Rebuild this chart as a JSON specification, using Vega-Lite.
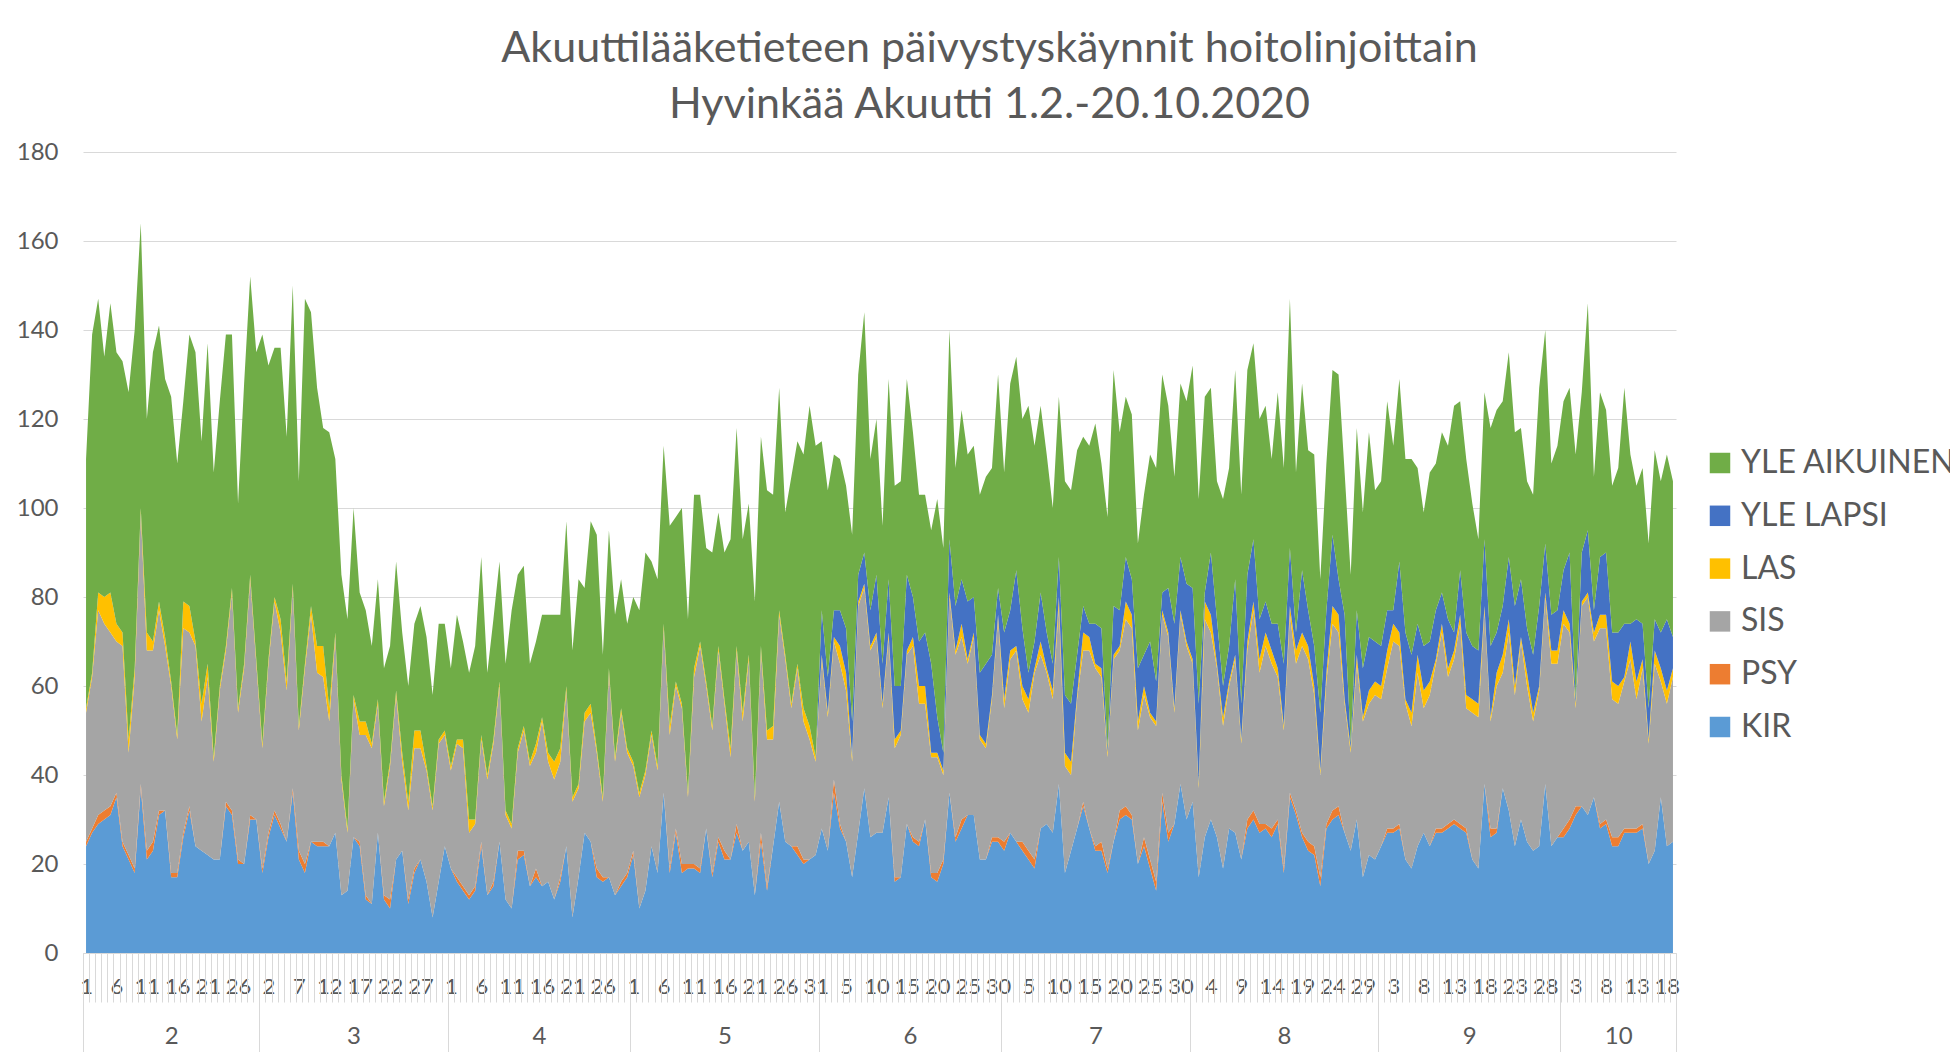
{
"$schema":"https://vega.github.io/schema/vega-lite/v6.json",
"width":1593,"height":801,
"autosize":{"type":"none"},
"padding":{"left":83,"top":152,"right":274,"bottom":99},
"background":"white",
"config":{"font":"Lato","view":{"stroke":null}},
"title":{"text":["Akuuttilääketieteen päivystyskäynnit hoitolinjoittain","Hyvinkää Akuutti 1.2.-20.10.2020"],"fontSize":43,"lineHeight":56,"fontWeight":"normal","color":"#595959","anchor":"middle","frame":"group","dx":110,"dy":56,"baseline":"alphabetic","offset":35},
"datasets":{
"series":[{"key":"KIR","rank":1},{"key":"PSY","rank":2},{"key":"SIS","rank":3},{"key":"LAS","rank":4},{"key":"YLE LAPSI","rank":5},{"key":"YLE AIKUINEN","rank":6}],
"days":[
{"date":"2020-02-01","KIR":24,"PSY":1,"SIS":29,"LAS":1,"YLE LAPSI":0,"YLE AIKUINEN":56},
{"date":"2020-02-02","KIR":27,"PSY":1,"SIS":34,"LAS":1,"YLE LAPSI":0,"YLE AIKUINEN":76},
{"date":"2020-02-03","KIR":29,"PSY":2,"SIS":46,"LAS":4,"YLE LAPSI":0,"YLE AIKUINEN":66},
{"date":"2020-02-04","KIR":30,"PSY":2,"SIS":42,"LAS":6,"YLE LAPSI":0,"YLE AIKUINEN":54},
{"date":"2020-02-05","KIR":31,"PSY":2,"SIS":39,"LAS":9,"YLE LAPSI":0,"YLE AIKUINEN":65},
{"date":"2020-02-06","KIR":35,"PSY":1,"SIS":34,"LAS":4,"YLE LAPSI":0,"YLE AIKUINEN":61},
{"date":"2020-02-07","KIR":24,"PSY":1,"SIS":44,"LAS":3,"YLE LAPSI":0,"YLE AIKUINEN":61},
{"date":"2020-02-08","KIR":21,"PSY":1,"SIS":23,"LAS":3,"YLE LAPSI":0,"YLE AIKUINEN":78},
{"date":"2020-02-09","KIR":18,"PSY":1,"SIS":43,"LAS":2,"YLE LAPSI":0,"YLE AIKUINEN":76},
{"date":"2020-02-10","KIR":37,"PSY":1,"SIS":61,"LAS":1,"YLE LAPSI":0,"YLE AIKUINEN":64},
{"date":"2020-02-11","KIR":21,"PSY":2,"SIS":45,"LAS":4,"YLE LAPSI":0,"YLE AIKUINEN":48},
{"date":"2020-02-12","KIR":23,"PSY":2,"SIS":43,"LAS":2,"YLE LAPSI":0,"YLE AIKUINEN":65},
{"date":"2020-02-13","KIR":31,"PSY":1,"SIS":45,"LAS":2,"YLE LAPSI":0,"YLE AIKUINEN":62},
{"date":"2020-02-14","KIR":32,"PSY":0,"SIS":37,"LAS":2,"YLE LAPSI":0,"YLE AIKUINEN":58},
{"date":"2020-02-15","KIR":17,"PSY":1,"SIS":42,"LAS":1,"YLE LAPSI":0,"YLE AIKUINEN":64},
{"date":"2020-02-16","KIR":17,"PSY":1,"SIS":30,"LAS":1,"YLE LAPSI":0,"YLE AIKUINEN":61},
{"date":"2020-02-17","KIR":26,"PSY":1,"SIS":46,"LAS":6,"YLE LAPSI":0,"YLE AIKUINEN":45},
{"date":"2020-02-18","KIR":32,"PSY":1,"SIS":39,"LAS":6,"YLE LAPSI":0,"YLE AIKUINEN":61},
{"date":"2020-02-19","KIR":24,"PSY":0,"SIS":45,"LAS":1,"YLE LAPSI":0,"YLE AIKUINEN":65},
{"date":"2020-02-20","KIR":23,"PSY":0,"SIS":29,"LAS":4,"YLE LAPSI":0,"YLE AIKUINEN":59},
{"date":"2020-02-21","KIR":22,"PSY":0,"SIS":40,"LAS":3,"YLE LAPSI":0,"YLE AIKUINEN":72},
{"date":"2020-02-22","KIR":21,"PSY":0,"SIS":22,"LAS":1,"YLE LAPSI":0,"YLE AIKUINEN":64},
{"date":"2020-02-23","KIR":21,"PSY":0,"SIS":38,"LAS":1,"YLE LAPSI":0,"YLE AIKUINEN":64},
{"date":"2020-02-24","KIR":33,"PSY":1,"SIS":34,"LAS":1,"YLE LAPSI":0,"YLE AIKUINEN":70},
{"date":"2020-02-25","KIR":31,"PSY":1,"SIS":49,"LAS":1,"YLE LAPSI":0,"YLE AIKUINEN":57},
{"date":"2020-02-26","KIR":20,"PSY":1,"SIS":33,"LAS":1,"YLE LAPSI":0,"YLE AIKUINEN":46},
{"date":"2020-02-27","KIR":20,"PSY":0,"SIS":44,"LAS":1,"YLE LAPSI":0,"YLE AIKUINEN":63},
{"date":"2020-02-28","KIR":30,"PSY":1,"SIS":53,"LAS":1,"YLE LAPSI":0,"YLE AIKUINEN":67},
{"date":"2020-02-29","KIR":30,"PSY":0,"SIS":35,"LAS":1,"YLE LAPSI":0,"YLE AIKUINEN":69},
{"date":"2020-03-01","KIR":18,"PSY":1,"SIS":27,"LAS":1,"YLE LAPSI":0,"YLE AIKUINEN":92},
{"date":"2020-03-02","KIR":26,"PSY":1,"SIS":38,"LAS":1,"YLE LAPSI":0,"YLE AIKUINEN":66},
{"date":"2020-03-03","KIR":31,"PSY":1,"SIS":47,"LAS":1,"YLE LAPSI":0,"YLE AIKUINEN":56},
{"date":"2020-03-04","KIR":28,"PSY":1,"SIS":43,"LAS":3,"YLE LAPSI":0,"YLE AIKUINEN":61},
{"date":"2020-03-05","KIR":25,"PSY":0,"SIS":34,"LAS":2,"YLE LAPSI":0,"YLE AIKUINEN":55},
{"date":"2020-03-06","KIR":36,"PSY":1,"SIS":45,"LAS":1,"YLE LAPSI":0,"YLE AIKUINEN":67},
{"date":"2020-03-07","KIR":21,"PSY":2,"SIS":27,"LAS":1,"YLE LAPSI":0,"YLE AIKUINEN":55},
{"date":"2020-03-08","KIR":18,"PSY":2,"SIS":44,"LAS":1,"YLE LAPSI":0,"YLE AIKUINEN":82},
{"date":"2020-03-09","KIR":25,"PSY":0,"SIS":51,"LAS":2,"YLE LAPSI":0,"YLE AIKUINEN":66},
{"date":"2020-03-10","KIR":24,"PSY":1,"SIS":38,"LAS":6,"YLE LAPSI":0,"YLE AIKUINEN":58},
{"date":"2020-03-11","KIR":24,"PSY":1,"SIS":37,"LAS":7,"YLE LAPSI":0,"YLE AIKUINEN":49},
{"date":"2020-03-12","KIR":24,"PSY":0,"SIS":28,"LAS":3,"YLE LAPSI":0,"YLE AIKUINEN":62},
{"date":"2020-03-13","KIR":27,"PSY":0,"SIS":44,"LAS":1,"YLE LAPSI":0,"YLE AIKUINEN":39},
{"date":"2020-03-14","KIR":13,"PSY":0,"SIS":26,"LAS":1,"YLE LAPSI":0,"YLE AIKUINEN":45},
{"date":"2020-03-15","KIR":14,"PSY":0,"SIS":13,"LAS":1,"YLE LAPSI":0,"YLE AIKUINEN":47},
{"date":"2020-03-16","KIR":26,"PSY":0,"SIS":31,"LAS":1,"YLE LAPSI":0,"YLE AIKUINEN":42},
{"date":"2020-03-17","KIR":24,"PSY":1,"SIS":24,"LAS":3,"YLE LAPSI":0,"YLE AIKUINEN":29},
{"date":"2020-03-18","KIR":12,"PSY":1,"SIS":36,"LAS":3,"YLE LAPSI":0,"YLE AIKUINEN":25},
{"date":"2020-03-19","KIR":11,"PSY":0,"SIS":35,"LAS":1,"YLE LAPSI":0,"YLE AIKUINEN":22},
{"date":"2020-03-20","KIR":27,"PSY":0,"SIS":29,"LAS":1,"YLE LAPSI":0,"YLE AIKUINEN":27},
{"date":"2020-03-21","KIR":12,"PSY":1,"SIS":20,"LAS":1,"YLE LAPSI":0,"YLE AIKUINEN":30},
{"date":"2020-03-22","KIR":10,"PSY":2,"SIS":30,"LAS":1,"YLE LAPSI":0,"YLE AIKUINEN":26},
{"date":"2020-03-23","KIR":21,"PSY":0,"SIS":37,"LAS":1,"YLE LAPSI":0,"YLE AIKUINEN":29},
{"date":"2020-03-24","KIR":23,"PSY":0,"SIS":20,"LAS":2,"YLE LAPSI":0,"YLE AIKUINEN":27},
{"date":"2020-03-25","KIR":11,"PSY":1,"SIS":20,"LAS":2,"YLE LAPSI":0,"YLE AIKUINEN":26},
{"date":"2020-03-26","KIR":18,"PSY":1,"SIS":27,"LAS":4,"YLE LAPSI":0,"YLE AIKUINEN":24},
{"date":"2020-03-27","KIR":21,"PSY":0,"SIS":25,"LAS":4,"YLE LAPSI":0,"YLE AIKUINEN":28},
{"date":"2020-03-28","KIR":16,"PSY":0,"SIS":25,"LAS":1,"YLE LAPSI":0,"YLE AIKUINEN":29},
{"date":"2020-03-29","KIR":8,"PSY":0,"SIS":24,"LAS":1,"YLE LAPSI":0,"YLE AIKUINEN":25},
{"date":"2020-03-30","KIR":16,"PSY":0,"SIS":31,"LAS":1,"YLE LAPSI":0,"YLE AIKUINEN":26},
{"date":"2020-03-31","KIR":24,"PSY":0,"SIS":25,"LAS":1,"YLE LAPSI":0,"YLE AIKUINEN":24},
{"date":"2020-04-01","KIR":19,"PSY":0,"SIS":22,"LAS":1,"YLE LAPSI":0,"YLE AIKUINEN":22},
{"date":"2020-04-02","KIR":16,"PSY":1,"SIS":30,"LAS":1,"YLE LAPSI":0,"YLE AIKUINEN":28},
{"date":"2020-04-03","KIR":14,"PSY":1,"SIS":31,"LAS":2,"YLE LAPSI":0,"YLE AIKUINEN":22},
{"date":"2020-04-04","KIR":12,"PSY":1,"SIS":14,"LAS":3,"YLE LAPSI":0,"YLE AIKUINEN":33},
{"date":"2020-04-05","KIR":14,"PSY":1,"SIS":14,"LAS":1,"YLE LAPSI":0,"YLE AIKUINEN":39},
{"date":"2020-04-06","KIR":24,"PSY":1,"SIS":23,"LAS":1,"YLE LAPSI":0,"YLE AIKUINEN":40},
{"date":"2020-04-07","KIR":13,"PSY":0,"SIS":26,"LAS":1,"YLE LAPSI":0,"YLE AIKUINEN":23},
{"date":"2020-04-08","KIR":15,"PSY":1,"SIS":31,"LAS":1,"YLE LAPSI":0,"YLE AIKUINEN":27},
{"date":"2020-04-09","KIR":25,"PSY":0,"SIS":35,"LAS":1,"YLE LAPSI":0,"YLE AIKUINEN":27},
{"date":"2020-04-10","KIR":12,"PSY":0,"SIS":19,"LAS":1,"YLE LAPSI":0,"YLE AIKUINEN":33},
{"date":"2020-04-11","KIR":10,"PSY":0,"SIS":18,"LAS":1,"YLE LAPSI":0,"YLE AIKUINEN":48},
{"date":"2020-04-12","KIR":21,"PSY":2,"SIS":22,"LAS":1,"YLE LAPSI":0,"YLE AIKUINEN":39},
{"date":"2020-04-13","KIR":22,"PSY":1,"SIS":27,"LAS":1,"YLE LAPSI":0,"YLE AIKUINEN":36},
{"date":"2020-04-14","KIR":15,"PSY":0,"SIS":27,"LAS":1,"YLE LAPSI":0,"YLE AIKUINEN":22},
{"date":"2020-04-15","KIR":17,"PSY":2,"SIS":26,"LAS":2,"YLE LAPSI":0,"YLE AIKUINEN":23},
{"date":"2020-04-16","KIR":15,"PSY":0,"SIS":37,"LAS":1,"YLE LAPSI":0,"YLE AIKUINEN":23},
{"date":"2020-04-17","KIR":16,"PSY":0,"SIS":27,"LAS":2,"YLE LAPSI":0,"YLE AIKUINEN":31},
{"date":"2020-04-18","KIR":12,"PSY":0,"SIS":27,"LAS":4,"YLE LAPSI":0,"YLE AIKUINEN":33},
{"date":"2020-04-19","KIR":16,"PSY":1,"SIS":26,"LAS":3,"YLE LAPSI":0,"YLE AIKUINEN":30},
{"date":"2020-04-20","KIR":24,"PSY":0,"SIS":35,"LAS":1,"YLE LAPSI":0,"YLE AIKUINEN":37},
{"date":"2020-04-21","KIR":8,"PSY":0,"SIS":26,"LAS":1,"YLE LAPSI":0,"YLE AIKUINEN":33},
{"date":"2020-04-22","KIR":17,"PSY":0,"SIS":20,"LAS":1,"YLE LAPSI":0,"YLE AIKUINEN":46},
{"date":"2020-04-23","KIR":27,"PSY":0,"SIS":25,"LAS":2,"YLE LAPSI":0,"YLE AIKUINEN":28},
{"date":"2020-04-24","KIR":25,"PSY":0,"SIS":29,"LAS":2,"YLE LAPSI":0,"YLE AIKUINEN":41},
{"date":"2020-04-25","KIR":17,"PSY":2,"SIS":26,"LAS":1,"YLE LAPSI":0,"YLE AIKUINEN":48},
{"date":"2020-04-26","KIR":16,"PSY":1,"SIS":17,"LAS":1,"YLE LAPSI":0,"YLE AIKUINEN":32},
{"date":"2020-04-27","KIR":17,"PSY":0,"SIS":46,"LAS":1,"YLE LAPSI":0,"YLE AIKUINEN":31},
{"date":"2020-04-28","KIR":13,"PSY":0,"SIS":30,"LAS":1,"YLE LAPSI":0,"YLE AIKUINEN":32},
{"date":"2020-04-29","KIR":15,"PSY":1,"SIS":38,"LAS":1,"YLE LAPSI":0,"YLE AIKUINEN":29},
{"date":"2020-04-30","KIR":17,"PSY":1,"SIS":27,"LAS":1,"YLE LAPSI":0,"YLE AIKUINEN":28},
{"date":"2020-05-01","KIR":22,"PSY":1,"SIS":19,"LAS":1,"YLE LAPSI":0,"YLE AIKUINEN":37},
{"date":"2020-05-02","KIR":10,"PSY":0,"SIS":25,"LAS":1,"YLE LAPSI":0,"YLE AIKUINEN":41},
{"date":"2020-05-03","KIR":14,"PSY":0,"SIS":26,"LAS":1,"YLE LAPSI":0,"YLE AIKUINEN":49},
{"date":"2020-05-04","KIR":24,"PSY":0,"SIS":25,"LAS":1,"YLE LAPSI":0,"YLE AIKUINEN":38},
{"date":"2020-05-05","KIR":18,"PSY":0,"SIS":23,"LAS":1,"YLE LAPSI":0,"YLE AIKUINEN":42},
{"date":"2020-05-06","KIR":36,"PSY":0,"SIS":37,"LAS":1,"YLE LAPSI":0,"YLE AIKUINEN":40},
{"date":"2020-05-07","KIR":18,"PSY":1,"SIS":30,"LAS":2,"YLE LAPSI":0,"YLE AIKUINEN":45},
{"date":"2020-05-08","KIR":27,"PSY":1,"SIS":32,"LAS":1,"YLE LAPSI":0,"YLE AIKUINEN":37},
{"date":"2020-05-09","KIR":18,"PSY":2,"SIS":35,"LAS":1,"YLE LAPSI":0,"YLE AIKUINEN":44},
{"date":"2020-05-10","KIR":19,"PSY":1,"SIS":15,"LAS":1,"YLE LAPSI":0,"YLE AIKUINEN":39},
{"date":"2020-05-11","KIR":19,"PSY":1,"SIS":42,"LAS":2,"YLE LAPSI":0,"YLE AIKUINEN":39},
{"date":"2020-05-12","KIR":18,"PSY":1,"SIS":50,"LAS":1,"YLE LAPSI":0,"YLE AIKUINEN":33},
{"date":"2020-05-13","KIR":28,"PSY":0,"SIS":32,"LAS":1,"YLE LAPSI":0,"YLE AIKUINEN":30},
{"date":"2020-05-14","KIR":17,"PSY":1,"SIS":32,"LAS":1,"YLE LAPSI":0,"YLE AIKUINEN":39},
{"date":"2020-05-15","KIR":25,"PSY":1,"SIS":42,"LAS":1,"YLE LAPSI":0,"YLE AIKUINEN":30},
{"date":"2020-05-16","KIR":21,"PSY":2,"SIS":33,"LAS":1,"YLE LAPSI":0,"YLE AIKUINEN":33},
{"date":"2020-05-17","KIR":21,"PSY":0,"SIS":23,"LAS":2,"YLE LAPSI":0,"YLE AIKUINEN":47},
{"date":"2020-05-18","KIR":27,"PSY":2,"SIS":39,"LAS":1,"YLE LAPSI":0,"YLE AIKUINEN":49},
{"date":"2020-05-19","KIR":23,"PSY":0,"SIS":29,"LAS":2,"YLE LAPSI":0,"YLE AIKUINEN":39},
{"date":"2020-05-20","KIR":25,"PSY":0,"SIS":41,"LAS":1,"YLE LAPSI":0,"YLE AIKUINEN":34},
{"date":"2020-05-21","KIR":13,"PSY":0,"SIS":21,"LAS":1,"YLE LAPSI":0,"YLE AIKUINEN":44},
{"date":"2020-05-22","KIR":25,"PSY":2,"SIS":41,"LAS":1,"YLE LAPSI":0,"YLE AIKUINEN":47},
{"date":"2020-05-23","KIR":14,"PSY":1,"SIS":33,"LAS":2,"YLE LAPSI":0,"YLE AIKUINEN":54},
{"date":"2020-05-24","KIR":24,"PSY":0,"SIS":24,"LAS":3,"YLE LAPSI":0,"YLE AIKUINEN":52},
{"date":"2020-05-25","KIR":34,"PSY":0,"SIS":42,"LAS":1,"YLE LAPSI":0,"YLE AIKUINEN":50},
{"date":"2020-05-26","KIR":25,"PSY":0,"SIS":41,"LAS":1,"YLE LAPSI":0,"YLE AIKUINEN":32},
{"date":"2020-05-27","KIR":24,"PSY":0,"SIS":31,"LAS":1,"YLE LAPSI":0,"YLE AIKUINEN":51},
{"date":"2020-05-28","KIR":22,"PSY":2,"SIS":40,"LAS":1,"YLE LAPSI":0,"YLE AIKUINEN":50},
{"date":"2020-05-29","KIR":20,"PSY":1,"SIS":31,"LAS":3,"YLE LAPSI":0,"YLE AIKUINEN":57},
{"date":"2020-05-30","KIR":21,"PSY":0,"SIS":27,"LAS":3,"YLE LAPSI":0,"YLE AIKUINEN":72},
{"date":"2020-05-31","KIR":22,"PSY":0,"SIS":21,"LAS":1,"YLE LAPSI":0,"YLE AIKUINEN":70},
{"date":"2020-06-01","KIR":28,"PSY":0,"SIS":38,"LAS":1,"YLE LAPSI":10,"YLE AIKUINEN":38},
{"date":"2020-06-02","KIR":23,"PSY":0,"SIS":30,"LAS":1,"YLE LAPSI":8,"YLE AIKUINEN":42},
{"date":"2020-06-03","KIR":36,"PSY":3,"SIS":31,"LAS":1,"YLE LAPSI":6,"YLE AIKUINEN":35},
{"date":"2020-06-04","KIR":28,"PSY":1,"SIS":36,"LAS":4,"YLE LAPSI":8,"YLE AIKUINEN":34},
{"date":"2020-06-05","KIR":25,"PSY":0,"SIS":34,"LAS":4,"YLE LAPSI":10,"YLE AIKUINEN":32},
{"date":"2020-06-06","KIR":17,"PSY":0,"SIS":26,"LAS":1,"YLE LAPSI":8,"YLE AIKUINEN":42},
{"date":"2020-06-07","KIR":27,"PSY":0,"SIS":51,"LAS":1,"YLE LAPSI":6,"YLE AIKUINEN":45},
{"date":"2020-06-08","KIR":37,"PSY":0,"SIS":45,"LAS":1,"YLE LAPSI":7,"YLE AIKUINEN":54},
{"date":"2020-06-09","KIR":26,"PSY":0,"SIS":42,"LAS":1,"YLE LAPSI":8,"YLE AIKUINEN":34},
{"date":"2020-06-10","KIR":27,"PSY":0,"SIS":44,"LAS":1,"YLE LAPSI":13,"YLE AIKUINEN":35},
{"date":"2020-06-11","KIR":27,"PSY":0,"SIS":28,"LAS":1,"YLE LAPSI":9,"YLE AIKUINEN":31},
{"date":"2020-06-12","KIR":35,"PSY":0,"SIS":36,"LAS":1,"YLE LAPSI":12,"YLE AIKUINEN":45},
{"date":"2020-06-13","KIR":16,"PSY":1,"SIS":29,"LAS":2,"YLE LAPSI":12,"YLE AIKUINEN":45},
{"date":"2020-06-14","KIR":17,"PSY":0,"SIS":32,"LAS":1,"YLE LAPSI":10,"YLE AIKUINEN":46},
{"date":"2020-06-15","KIR":29,"PSY":0,"SIS":38,"LAS":1,"YLE LAPSI":17,"YLE AIKUINEN":44},
{"date":"2020-06-16","KIR":25,"PSY":1,"SIS":43,"LAS":2,"YLE LAPSI":9,"YLE AIKUINEN":37},
{"date":"2020-06-17","KIR":24,"PSY":1,"SIS":31,"LAS":4,"YLE LAPSI":10,"YLE AIKUINEN":33},
{"date":"2020-06-18","KIR":30,"PSY":0,"SIS":26,"LAS":4,"YLE LAPSI":12,"YLE AIKUINEN":31},
{"date":"2020-06-19","KIR":17,"PSY":1,"SIS":26,"LAS":1,"YLE LAPSI":20,"YLE AIKUINEN":30},
{"date":"2020-06-20","KIR":16,"PSY":2,"SIS":26,"LAS":1,"YLE LAPSI":8,"YLE AIKUINEN":49},
{"date":"2020-06-21","KIR":20,"PSY":1,"SIS":19,"LAS":1,"YLE LAPSI":4,"YLE AIKUINEN":46},
{"date":"2020-06-22","KIR":36,"PSY":0,"SIS":44,"LAS":1,"YLE LAPSI":12,"YLE AIKUINEN":47},
{"date":"2020-06-23","KIR":25,"PSY":1,"SIS":41,"LAS":1,"YLE LAPSI":10,"YLE AIKUINEN":31},
{"date":"2020-06-24","KIR":28,"PSY":2,"SIS":41,"LAS":3,"YLE LAPSI":10,"YLE AIKUINEN":38},
{"date":"2020-06-25","KIR":31,"PSY":0,"SIS":34,"LAS":1,"YLE LAPSI":13,"YLE AIKUINEN":33},
{"date":"2020-06-26","KIR":31,"PSY":0,"SIS":40,"LAS":1,"YLE LAPSI":8,"YLE AIKUINEN":34},
{"date":"2020-06-27","KIR":21,"PSY":0,"SIS":27,"LAS":1,"YLE LAPSI":14,"YLE AIKUINEN":40},
{"date":"2020-06-28","KIR":21,"PSY":0,"SIS":25,"LAS":1,"YLE LAPSI":18,"YLE AIKUINEN":42},
{"date":"2020-06-29","KIR":25,"PSY":1,"SIS":31,"LAS":1,"YLE LAPSI":9,"YLE AIKUINEN":42},
{"date":"2020-06-30","KIR":25,"PSY":1,"SIS":49,"LAS":1,"YLE LAPSI":6,"YLE AIKUINEN":48},
{"date":"2020-07-01","KIR":23,"PSY":2,"SIS":30,"LAS":2,"YLE LAPSI":15,"YLE AIKUINEN":36},
{"date":"2020-07-02","KIR":27,"PSY":0,"SIS":39,"LAS":2,"YLE LAPSI":9,"YLE AIKUINEN":51},
{"date":"2020-07-03","KIR":25,"PSY":0,"SIS":43,"LAS":1,"YLE LAPSI":17,"YLE AIKUINEN":48},
{"date":"2020-07-04","KIR":23,"PSY":2,"SIS":32,"LAS":3,"YLE LAPSI":13,"YLE AIKUINEN":47},
{"date":"2020-07-05","KIR":21,"PSY":2,"SIS":31,"LAS":3,"YLE LAPSI":6,"YLE AIKUINEN":60},
{"date":"2020-07-06","KIR":19,"PSY":2,"SIS":42,"LAS":1,"YLE LAPSI":6,"YLE AIKUINEN":44},
{"date":"2020-07-07","KIR":28,"PSY":0,"SIS":39,"LAS":3,"YLE LAPSI":11,"YLE AIKUINEN":42},
{"date":"2020-07-08","KIR":29,"PSY":0,"SIS":34,"LAS":1,"YLE LAPSI":8,"YLE AIKUINEN":40},
{"date":"2020-07-09","KIR":27,"PSY":0,"SIS":30,"LAS":2,"YLE LAPSI":6,"YLE AIKUINEN":35},
{"date":"2020-07-10","KIR":38,"PSY":0,"SIS":40,"LAS":2,"YLE LAPSI":9,"YLE AIKUINEN":36},
{"date":"2020-07-11","KIR":18,"PSY":0,"SIS":24,"LAS":3,"YLE LAPSI":13,"YLE AIKUINEN":48},
{"date":"2020-07-12","KIR":23,"PSY":0,"SIS":17,"LAS":3,"YLE LAPSI":13,"YLE AIKUINEN":48},
{"date":"2020-07-13","KIR":28,"PSY":0,"SIS":29,"LAS":1,"YLE LAPSI":9,"YLE AIKUINEN":46},
{"date":"2020-07-14","KIR":33,"PSY":1,"SIS":34,"LAS":4,"YLE LAPSI":6,"YLE AIKUINEN":38},
{"date":"2020-07-15","KIR":28,"PSY":0,"SIS":40,"LAS":3,"YLE LAPSI":3,"YLE AIKUINEN":40},
{"date":"2020-07-16","KIR":23,"PSY":1,"SIS":40,"LAS":1,"YLE LAPSI":9,"YLE AIKUINEN":45},
{"date":"2020-07-17","KIR":23,"PSY":2,"SIS":37,"LAS":2,"YLE LAPSI":9,"YLE AIKUINEN":37},
{"date":"2020-07-18","KIR":18,"PSY":1,"SIS":25,"LAS":1,"YLE LAPSI":1,"YLE AIKUINEN":52},
{"date":"2020-07-19","KIR":25,"PSY":0,"SIS":41,"LAS":1,"YLE LAPSI":11,"YLE AIKUINEN":53},
{"date":"2020-07-20","KIR":30,"PSY":2,"SIS":36,"LAS":1,"YLE LAPSI":8,"YLE AIKUINEN":40},
{"date":"2020-07-21","KIR":31,"PSY":2,"SIS":42,"LAS":4,"YLE LAPSI":10,"YLE AIKUINEN":36},
{"date":"2020-07-22","KIR":30,"PSY":1,"SIS":42,"LAS":3,"YLE LAPSI":8,"YLE AIKUINEN":37},
{"date":"2020-07-23","KIR":20,"PSY":0,"SIS":30,"LAS":2,"YLE LAPSI":12,"YLE AIKUINEN":28},
{"date":"2020-07-24","KIR":24,"PSY":2,"SIS":32,"LAS":2,"YLE LAPSI":7,"YLE AIKUINEN":36},
{"date":"2020-07-25","KIR":19,"PSY":2,"SIS":32,"LAS":1,"YLE LAPSI":16,"YLE AIKUINEN":42},
{"date":"2020-07-26","KIR":14,"PSY":2,"SIS":35,"LAS":1,"YLE LAPSI":9,"YLE AIKUINEN":48},
{"date":"2020-07-27","KIR":34,"PSY":2,"SIS":40,"LAS":1,"YLE LAPSI":4,"YLE AIKUINEN":49},
{"date":"2020-07-28","KIR":25,"PSY":2,"SIS":44,"LAS":1,"YLE LAPSI":10,"YLE AIKUINEN":41},
{"date":"2020-07-29","KIR":29,"PSY":0,"SIS":25,"LAS":1,"YLE LAPSI":19,"YLE AIKUINEN":33},
{"date":"2020-07-30","KIR":38,"PSY":0,"SIS":38,"LAS":1,"YLE LAPSI":12,"YLE AIKUINEN":39},
{"date":"2020-07-31","KIR":30,"PSY":0,"SIS":39,"LAS":1,"YLE LAPSI":13,"YLE AIKUINEN":41},
{"date":"2020-08-01","KIR":34,"PSY":0,"SIS":31,"LAS":1,"YLE LAPSI":16,"YLE AIKUINEN":50},
{"date":"2020-08-02","KIR":17,"PSY":0,"SIS":20,"LAS":1,"YLE LAPSI":18,"YLE AIKUINEN":46},
{"date":"2020-08-03","KIR":26,"PSY":0,"SIS":49,"LAS":4,"YLE LAPSI":2,"YLE AIKUINEN":44},
{"date":"2020-08-04","KIR":30,"PSY":0,"SIS":42,"LAS":4,"YLE LAPSI":14,"YLE AIKUINEN":37},
{"date":"2020-08-05","KIR":26,"PSY":0,"SIS":38,"LAS":1,"YLE LAPSI":10,"YLE AIKUINEN":31},
{"date":"2020-08-06","KIR":19,"PSY":0,"SIS":32,"LAS":2,"YLE LAPSI":7,"YLE AIKUINEN":42},
{"date":"2020-08-07","KIR":28,"PSY":0,"SIS":32,"LAS":1,"YLE LAPSI":8,"YLE AIKUINEN":40},
{"date":"2020-08-08","KIR":27,"PSY":0,"SIS":39,"LAS":1,"YLE LAPSI":17,"YLE AIKUINEN":47},
{"date":"2020-08-09","KIR":21,"PSY":0,"SIS":26,"LAS":1,"YLE LAPSI":8,"YLE AIKUINEN":47},
{"date":"2020-08-10","KIR":28,"PSY":2,"SIS":38,"LAS":2,"YLE LAPSI":15,"YLE AIKUINEN":46},
{"date":"2020-08-11","KIR":30,"PSY":2,"SIS":45,"LAS":2,"YLE LAPSI":14,"YLE AIKUINEN":44},
{"date":"2020-08-12","KIR":27,"PSY":2,"SIS":34,"LAS":3,"YLE LAPSI":9,"YLE AIKUINEN":45},
{"date":"2020-08-13","KIR":28,"PSY":1,"SIS":40,"LAS":3,"YLE LAPSI":7,"YLE AIKUINEN":44},
{"date":"2020-08-14","KIR":26,"PSY":2,"SIS":37,"LAS":3,"YLE LAPSI":6,"YLE AIKUINEN":37},
{"date":"2020-08-15","KIR":29,"PSY":1,"SIS":32,"LAS":2,"YLE LAPSI":10,"YLE AIKUINEN":52},
{"date":"2020-08-16","KIR":18,"PSY":1,"SIS":31,"LAS":1,"YLE LAPSI":14,"YLE AIKUINEN":44},
{"date":"2020-08-17","KIR":35,"PSY":1,"SIS":40,"LAS":2,"YLE LAPSI":13,"YLE AIKUINEN":56},
{"date":"2020-08-18","KIR":31,"PSY":1,"SIS":33,"LAS":3,"YLE LAPSI":4,"YLE AIKUINEN":36},
{"date":"2020-08-19","KIR":26,"PSY":1,"SIS":42,"LAS":3,"YLE LAPSI":14,"YLE AIKUINEN":42},
{"date":"2020-08-20","KIR":23,"PSY":2,"SIS":41,"LAS":3,"YLE LAPSI":8,"YLE AIKUINEN":36},
{"date":"2020-08-21","KIR":22,"PSY":2,"SIS":34,"LAS":2,"YLE LAPSI":9,"YLE AIKUINEN":43},
{"date":"2020-08-22","KIR":15,"PSY":2,"SIS":23,"LAS":1,"YLE LAPSI":13,"YLE AIKUINEN":30},
{"date":"2020-08-23","KIR":28,"PSY":1,"SIS":32,"LAS":2,"YLE LAPSI":14,"YLE AIKUINEN":33},
{"date":"2020-08-24","KIR":30,"PSY":2,"SIS":42,"LAS":4,"YLE LAPSI":16,"YLE AIKUINEN":37},
{"date":"2020-08-25","KIR":31,"PSY":2,"SIS":39,"LAS":4,"YLE LAPSI":8,"YLE AIKUINEN":46},
{"date":"2020-08-26","KIR":27,"PSY":0,"SIS":29,"LAS":1,"YLE LAPSI":19,"YLE AIKUINEN":32},
{"date":"2020-08-27","KIR":23,"PSY":0,"SIS":22,"LAS":1,"YLE LAPSI":1,"YLE AIKUINEN":38},
{"date":"2020-08-28","KIR":30,"PSY":0,"SIS":35,"LAS":2,"YLE LAPSI":10,"YLE AIKUINEN":41},
{"date":"2020-08-29","KIR":17,"PSY":0,"SIS":35,"LAS":1,"YLE LAPSI":11,"YLE AIKUINEN":35},
{"date":"2020-08-30","KIR":22,"PSY":0,"SIS":34,"LAS":3,"YLE LAPSI":12,"YLE AIKUINEN":46},
{"date":"2020-08-31","KIR":21,"PSY":0,"SIS":37,"LAS":3,"YLE LAPSI":9,"YLE AIKUINEN":34},
{"date":"2020-09-01","KIR":24,"PSY":0,"SIS":33,"LAS":3,"YLE LAPSI":9,"YLE AIKUINEN":37},
{"date":"2020-09-02","KIR":27,"PSY":1,"SIS":36,"LAS":4,"YLE LAPSI":9,"YLE AIKUINEN":47},
{"date":"2020-09-03","KIR":27,"PSY":1,"SIS":42,"LAS":4,"YLE LAPSI":3,"YLE AIKUINEN":37},
{"date":"2020-09-04","KIR":28,"PSY":1,"SIS":40,"LAS":3,"YLE LAPSI":16,"YLE AIKUINEN":41},
{"date":"2020-09-05","KIR":21,"PSY":0,"SIS":35,"LAS":1,"YLE LAPSI":15,"YLE AIKUINEN":39},
{"date":"2020-09-06","KIR":19,"PSY":0,"SIS":32,"LAS":3,"YLE LAPSI":13,"YLE AIKUINEN":44},
{"date":"2020-09-07","KIR":24,"PSY":0,"SIS":39,"LAS":4,"YLE LAPSI":7,"YLE AIKUINEN":35},
{"date":"2020-09-08","KIR":27,"PSY":0,"SIS":28,"LAS":4,"YLE LAPSI":10,"YLE AIKUINEN":30},
{"date":"2020-09-09","KIR":24,"PSY":0,"SIS":34,"LAS":3,"YLE LAPSI":9,"YLE AIKUINEN":38},
{"date":"2020-09-10","KIR":27,"PSY":1,"SIS":37,"LAS":1,"YLE LAPSI":11,"YLE AIKUINEN":33},
{"date":"2020-09-11","KIR":27,"PSY":1,"SIS":44,"LAS":2,"YLE LAPSI":7,"YLE AIKUINEN":36},
{"date":"2020-09-12","KIR":28,"PSY":1,"SIS":33,"LAS":2,"YLE LAPSI":11,"YLE AIKUINEN":39},
{"date":"2020-09-13","KIR":29,"PSY":1,"SIS":36,"LAS":2,"YLE LAPSI":4,"YLE AIKUINEN":51},
{"date":"2020-09-14","KIR":28,"PSY":1,"SIS":45,"LAS":2,"YLE LAPSI":10,"YLE AIKUINEN":38},
{"date":"2020-09-15","KIR":27,"PSY":1,"SIS":27,"LAS":3,"YLE LAPSI":14,"YLE AIKUINEN":39},
{"date":"2020-09-16","KIR":21,"PSY":0,"SIS":33,"LAS":3,"YLE LAPSI":12,"YLE AIKUINEN":32},
{"date":"2020-09-17","KIR":19,"PSY":0,"SIS":34,"LAS":3,"YLE LAPSI":12,"YLE AIKUINEN":25},
{"date":"2020-09-18","KIR":38,"PSY":0,"SIS":39,"LAS":1,"YLE LAPSI":15,"YLE AIKUINEN":33},
{"date":"2020-09-19","KIR":26,"PSY":2,"SIS":24,"LAS":1,"YLE LAPSI":16,"YLE AIKUINEN":49},
{"date":"2020-09-20","KIR":27,"PSY":1,"SIS":32,"LAS":3,"YLE LAPSI":9,"YLE AIKUINEN":50},
{"date":"2020-09-21","KIR":37,"PSY":0,"SIS":26,"LAS":4,"YLE LAPSI":11,"YLE AIKUINEN":46},
{"date":"2020-09-22","KIR":32,"PSY":0,"SIS":40,"LAS":3,"YLE LAPSI":14,"YLE AIKUINEN":46},
{"date":"2020-09-23","KIR":24,"PSY":0,"SIS":34,"LAS":2,"YLE LAPSI":18,"YLE AIKUINEN":39},
{"date":"2020-09-24","KIR":30,"PSY":0,"SIS":40,"LAS":1,"YLE LAPSI":13,"YLE AIKUINEN":34},
{"date":"2020-09-25","KIR":25,"PSY":0,"SIS":35,"LAS":3,"YLE LAPSI":10,"YLE AIKUINEN":33},
{"date":"2020-09-26","KIR":23,"PSY":0,"SIS":29,"LAS":2,"YLE LAPSI":13,"YLE AIKUINEN":36},
{"date":"2020-09-27","KIR":24,"PSY":0,"SIS":35,"LAS":1,"YLE LAPSI":18,"YLE AIKUINEN":49},
{"date":"2020-09-28","KIR":38,"PSY":0,"SIS":42,"LAS":1,"YLE LAPSI":11,"YLE AIKUINEN":48},
{"date":"2020-09-29","KIR":24,"PSY":0,"SIS":41,"LAS":3,"YLE LAPSI":8,"YLE AIKUINEN":34},
{"date":"2020-09-30","KIR":26,"PSY":0,"SIS":39,"LAS":3,"YLE LAPSI":9,"YLE AIKUINEN":37},
{"date":"2020-10-01","KIR":26,"PSY":2,"SIS":46,"LAS":3,"YLE LAPSI":9,"YLE AIKUINEN":38},
{"date":"2020-10-02","KIR":28,"PSY":2,"SIS":42,"LAS":2,"YLE LAPSI":16,"YLE AIKUINEN":37},
{"date":"2020-10-03","KIR":31,"PSY":2,"SIS":22,"LAS":1,"YLE LAPSI":1,"YLE AIKUINEN":55},
{"date":"2020-10-04","KIR":33,"PSY":0,"SIS":45,"LAS":1,"YLE LAPSI":11,"YLE AIKUINEN":36},
{"date":"2020-10-05","KIR":31,"PSY":0,"SIS":49,"LAS":1,"YLE LAPSI":14,"YLE AIKUINEN":51},
{"date":"2020-10-06","KIR":35,"PSY":0,"SIS":35,"LAS":2,"YLE LAPSI":5,"YLE AIKUINEN":30},
{"date":"2020-10-07","KIR":28,"PSY":1,"SIS":44,"LAS":3,"YLE LAPSI":13,"YLE AIKUINEN":37},
{"date":"2020-10-08","KIR":29,"PSY":1,"SIS":43,"LAS":3,"YLE LAPSI":14,"YLE AIKUINEN":32},
{"date":"2020-10-09","KIR":24,"PSY":2,"SIS":31,"LAS":4,"YLE LAPSI":11,"YLE AIKUINEN":33},
{"date":"2020-10-10","KIR":24,"PSY":2,"SIS":30,"LAS":4,"YLE LAPSI":12,"YLE AIKUINEN":37},
{"date":"2020-10-11","KIR":27,"PSY":1,"SIS":33,"LAS":1,"YLE LAPSI":12,"YLE AIKUINEN":53},
{"date":"2020-10-12","KIR":27,"PSY":1,"SIS":38,"LAS":4,"YLE LAPSI":4,"YLE AIKUINEN":38},
{"date":"2020-10-13","KIR":27,"PSY":1,"SIS":29,"LAS":4,"YLE LAPSI":14,"YLE AIKUINEN":30},
{"date":"2020-10-14","KIR":28,"PSY":1,"SIS":35,"LAS":2,"YLE LAPSI":8,"YLE AIKUINEN":35},
{"date":"2020-10-15","KIR":20,"PSY":0,"SIS":27,"LAS":1,"YLE LAPSI":7,"YLE AIKUINEN":37},
{"date":"2020-10-16","KIR":23,"PSY":0,"SIS":42,"LAS":3,"YLE LAPSI":7,"YLE AIKUINEN":38},
{"date":"2020-10-17","KIR":35,"PSY":0,"SIS":26,"LAS":3,"YLE LAPSI":8,"YLE AIKUINEN":34},
{"date":"2020-10-18","KIR":24,"PSY":0,"SIS":32,"LAS":3,"YLE LAPSI":16,"YLE AIKUINEN":37},
{"date":"2020-10-19","KIR":25,"PSY":0,"SIS":37,"LAS":2,"YLE LAPSI":7,"YLE AIKUINEN":35}
]},
"data":{"name":"days"},
"resolve":{"axis":{"x":"independent"}},
"layer":[
{"transform":[{"fold":["KIR","PSY","SIS","LAS","YLE LAPSI","YLE AIKUINEN"],"as":["key","value"]},{"lookup":"key","from":{"data":{"name":"series"},"key":"key","fields":["rank"]}}],
"mark":{"type":"area","interpolate":"linear"},
"encoding":{
"x":{"field":"date","type":"temporal","scale":{"type":"utc","domain":[1580472000000,1603108800000],"nice":false},
"axis":{"orient":"bottom","title":null,"values":[1580515200000,1580947200000,1581379200000,1581811200000,1582243200000,1582675200000,1583107200000,1583539200000,1583971200000,1584403200000,1584835200000,1585267200000,1585699200000,1586131200000,1586563200000,1586995200000,1587427200000,1587859200000,1588291200000,1588723200000,1589155200000,1589587200000,1590019200000,1590451200000,1590883200000,1591315200000,1591747200000,1592179200000,1592611200000,1593043200000,1593475200000,1593907200000,1594339200000,1594771200000,1595203200000,1595635200000,1596067200000,1596499200000,1596931200000,1597363200000,1597795200000,1598227200000,1598659200000,1599091200000,1599523200000,1599955200000,1600387200000,1600819200000,1601251200000,1601683200000,1602115200000,1602547200000,1602979200000],
"labelExpr":"utcFormat(datum.value,'%-d')","ticks":false,"tickSize":0,"labelPadding":23,"labelFontSize":22,"labelColor":"#595959","labelOverlap":false,"labelBound":false,"labelFlush":false,"domain":true,"domainColor":"#d9d9d9","domainWidth":1,"grid":false}},
"y":{"field":"value","type":"quantitative","stack":"zero","scale":{"domain":[0,180],"nice":false},
"axis":{"title":null,"values":[0,20,40,60,80,100,120,140,160,180],"domain":false,"ticks":false,"tickSize":0,"labelPadding":25,"labelFontSize":24,"labelColor":"#595959","grid":true,"gridColor":"#d9d9d9","gridWidth":1.2}},
"color":{"field":"key","type":"nominal","scale":{"domain":["YLE AIKUINEN","YLE LAPSI","LAS","SIS","PSY","KIR"],"range":["#70AD47","#4472C4","#FFC000","#A5A5A5","#ED7D31","#5B9BD5"]},
"legend":{"orient":"none","legendX":1621,"legendY":295,"title":null,"symbolType":"square","symbolSize":420,"symbolStrokeWidth":0,"symbolOpacity":1,"labelFontSize":32,"labelLimit":600,"labelColor":"#595959","rowPadding":20.8,"labelOffset":5,"padding":0}},
"order":{"field":"rank","type":"quantitative","sort":"ascending"}
}},
{"mark":{"type":"rule","opacity":0},
"encoding":{"x":{"field":"date","type":"temporal","scale":{"type":"utc","domain":[1580472000000,1603108800000],"nice":false},
"axis":{"orient":"bottom","title":null,"labels":false,"domain":false,"grid":false,"ticks":true,"tickCount":{"interval":"day","step":1},"tickSize":49,"tickColor":"#d9d9d9","tickWidth":1,"tickOffset":-3}}}},
{"mark":{"type":"rule","opacity":0},
"encoding":{"x":{"field":"date","type":"temporal","scale":{"type":"utc","domain":[1580472000000,1603108800000],"nice":false},
"axis":{"orient":"bottom","title":null,"labels":false,"domain":false,"grid":false,"ticks":true,"values":[1580472000000,1582977600000,1585656000000,1588248000000,1590926400000,1593518400000,1596196800000,1598875200000,1601467200000,1603108800000],"tickSize":100,"tickColor":"#d9d9d9","tickWidth":1}}}},
{"mark":{"type":"rule","opacity":0},
"encoding":{"x":{"field":"date","type":"temporal","scale":{"type":"utc","domain":[1580472000000,1603108800000],"nice":false},
"axis":{"orient":"bottom","title":null,"domain":false,"grid":false,"ticks":false,"tickSize":0,"values":[1581724800000,1584316800000,1586952000000,1589587200000,1592222400000,1594857600000,1597536000000,1600171200000,1602288000000],"labelExpr":"utcFormat(datum.value,'%-m')","labelPadding":71,"labelFontSize":24,"labelColor":"#595959","labelOverlap":false,"labelBound":false,"labelFlush":false}}}}
]
}
